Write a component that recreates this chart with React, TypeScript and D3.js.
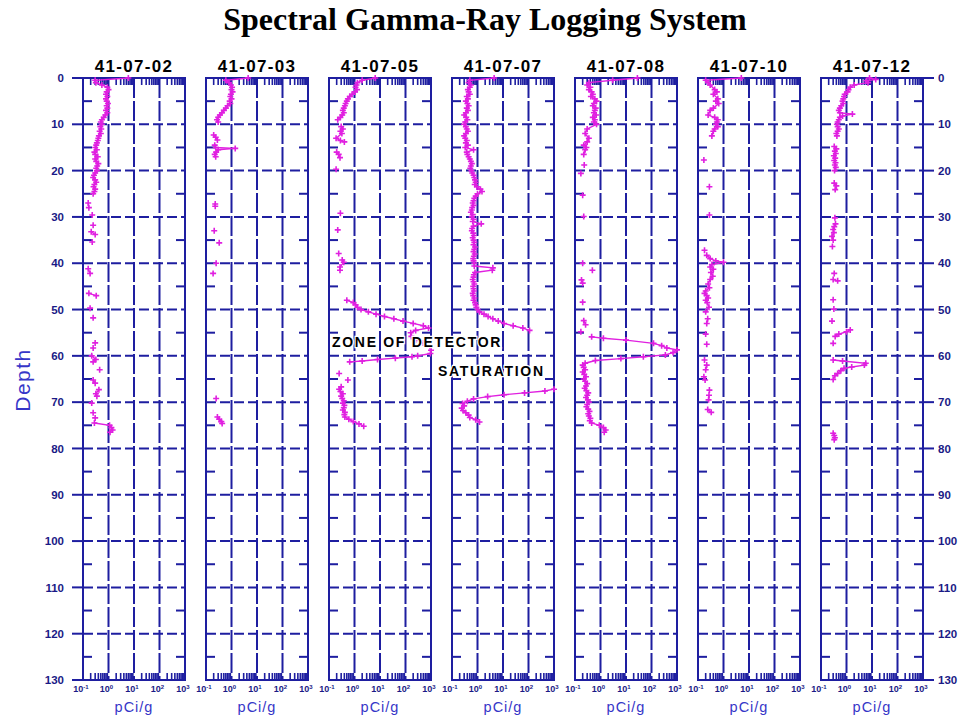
import React from 'react';
import * as d3 from 'd3';

type Pt = [number, number]; // [depth ft, activity pCi/g]

const wells = ['41-07-02', '41-07-03', '41-07-05', '41-07-07', '41-07-08', '41-07-10', '41-07-12'];
const depthTicks = [0, 10, 20, 30, 40, 50, 60, 70, 80, 90, 100, 110, 120, 130];
const depthMinor = [5, 15, 25, 35, 45, 55, 65, 75, 85, 95, 105, 115, 125];
const decadeExponents = [-1, 0, 1, 2, 3];
const gridDecades = [1, 10, 100];

const log02: Pt[] = [
  [0, 6.0], [0.5, 0.3], [1, 0.32], [1.5, 0.55], [2, 0.9], [2.5, 1.0], [3, 0.85], [3.5, 0.8], [4, 0.9], [4.5, 0.8],
  [5, 0.85], [5.5, 0.95], [6, 0.85], [6.5, 0.9], [7, 0.8], [7.5, 0.9], [8, 0.75], [8.5, 0.65], [9, 0.55], [9.5, 0.5],
  [10, 0.55], [10.5, 0.48], [11, 0.52], [11.5, 0.45], [12, 0.5], [12.5, 0.42], [13, 0.4], [13.5, 0.38], [14, 0.35],
  [14.5, 0.33], [15, 0.3], [15.5, 0.35], [16, 0.28], [16.5, 0.3], [17, 0.38], [17.5, 0.3], [18, 0.33], [18.5, 0.4],
  [19, 0.36], [19.5, 0.33], [20, 0.35], [20.5, 0.3], [21, 0.27], [21.5, 0.25], [22, 0.3], [22.5, 0.33], [23, 0.28],
  [23.5, 0.26], [24, 0.3], [24.5, 0.28], [25, 0.25],
  [27, 0.16], [28, 0.17], [29.6, 0.23], [31.8, 0.25], [33.2, 0.21], [33.8, 0.3], [35.4, 0.23], [41.2, 0.16],
  [42.2, 0.19], [46.5, 0.17], [47, 0.33], [49.7, 0.19], [51.8, 0.25], [57.2, 0.3], [58.3, 0.25], [60, 0.22],
  [60.8, 0.32], [61.3, 0.25], [63, 0.45], [65.2, 0.25], [65.9, 0.3], [67.3, 0.42], [68.2, 0.32], [68.7, 0.35],
  [70.2, 0.22], [72.3, 0.25], [73.4, 0.3], [74.5, 0.28], [75, 1.1], [75.5, 1.3], [76, 1.45], [76.5, 1.15],
];

const log03: Pt[] = [
  [0, 4.5], [0.5, 0.6], [1, 0.8], [1.5, 0.95], [2, 1.05], [2.5, 1.0], [3, 1.1], [3.5, 0.95], [4, 0.9], [4.5, 1.0],
  [5, 0.85], [5.5, 0.9], [6, 0.7], [6.5, 0.6], [7, 0.5], [7.5, 0.42], [8, 0.35], [8.5, 0.3], [9, 0.27], [9.5, 0.3],
  [12.3, 0.2], [12.8, 0.24], [13.4, 0.28], [14.5, 0.22], [15, 0.24], [15.2, 1.4], [15.5, 0.3], [16, 0.25],
  [16.5, 0.22], [17, 0.24],
  [27.2, 0.23], [27.7, 0.23], [33, 0.21], [35.6, 0.33], [40, 0.25], [42.2, 0.19], [69.2, 0.25],
  [73.2, 0.28], [73.7, 0.33], [74.2, 0.4], [74.6, 0.43],
];

const log05: Pt[] = [
  [0, 6.5], [0.5, 2.0], [1, 1.3], [1.5, 1.2], [2, 1.1], [2.5, 1.25], [3, 1.05], [3.5, 0.8], [4, 0.65], [4.5, 0.55],
  [5, 0.5], [5.5, 0.45], [6, 0.42], [6.5, 0.38], [7, 0.35], [7.5, 0.38], [8, 0.33], [8.5, 0.28], [9, 0.22],
  [10.5, 0.3], [11, 0.35], [11.5, 0.28], [12, 0.32], [13, 0.19], [13.5, 0.28], [13.8, 0.4], [16, 0.2], [16.5, 0.24],
  [17.2, 0.27], [19.7, 0.19],
  [29.2, 0.28], [32.8, 0.22], [37.9, 0.24], [39.3, 0.33], [39.8, 0.38], [40.8, 0.27], [41.5, 0.27],
  [48, 0.5], [48.5, 0.9], [49, 1.1], [49.5, 1.3], [50, 1.8], [50.5, 3.5], [51, 7], [51.5, 15], [52, 35], [52.5, 80],
  [53, 200], [53.5, 500], [54, 800], [54.5, 250], [55, 160], [55.8, 170], [56.5, 250], [57.2, 500], [58, 900],
  [58.8, 1000], [59.5, 950], [60, 300], [60.2, 180], [60.5, 40], [60.8, 8], [61.1, 2], [61.3, 0.65],
  [63.8, 0.25], [65.2, 0.55], [66.7, 0.3], [67.2, 0.25], [67.7, 0.28], [68.2, 0.35], [68.7, 0.3], [69.2, 0.33],
  [69.7, 0.38], [70.2, 0.35], [70.7, 0.4], [71.2, 0.38], [71.7, 0.35], [72.2, 0.42], [72.7, 0.4], [73.2, 0.42],
  [73.7, 0.6], [74.2, 0.9], [74.7, 1.5], [75.2, 2.3],
];

const log07: Pt[] = [
  [0, 4.5], [0.5, 0.5], [1, 0.45], [1.5, 0.55], [2, 0.5], [2.5, 0.42], [3, 0.45], [3.5, 0.5], [4, 0.38], [4.5, 0.42],
  [5, 0.35], [5.5, 0.4], [6, 0.45], [6.5, 0.38], [7, 0.42], [7.5, 0.35], [8, 0.3], [8.5, 0.36], [9, 0.4], [9.5, 0.33],
  [10, 0.3], [10.5, 0.35], [11, 0.38], [11.5, 0.42], [12, 0.35], [12.5, 0.3], [13, 0.33], [13.5, 0.38], [14, 0.35],
  [14.5, 0.42], [15, 0.33], [15.5, 0.7], [16, 0.38], [16.5, 0.4], [17, 0.45], [17.5, 0.5], [18, 0.55], [18.5, 0.6],
  [19, 0.55], [19.5, 0.52], [20, 0.58], [20.5, 0.62], [21, 0.7], [21.5, 0.75], [22, 0.8], [22.5, 0.85], [23, 0.78],
  [23.5, 0.95], [24, 1.3], [24.5, 1.5], [25, 1.0], [25.5, 0.85], [26, 0.75], [26.5, 0.7], [27, 0.65], [27.5, 0.7],
  [28, 0.62], [28.5, 0.6], [29, 0.55], [29.5, 0.65], [30, 0.6], [30.5, 0.7], [31, 0.65], [31.5, 1.4], [32, 0.7],
  [32.5, 0.62], [33, 0.6], [33.5, 0.68], [34, 0.72], [34.5, 0.65], [35, 0.7], [35.5, 0.75], [36, 0.7], [36.5, 0.8],
  [37, 0.75], [37.5, 0.7], [38, 0.78], [38.5, 0.72], [39, 0.68], [39.5, 0.7], [40, 0.75], [40.6, 0.75], [41, 4.0],
  [41.5, 3.8], [42, 0.8], [42.5, 0.72], [43, 0.7], [43.5, 0.65], [44, 0.7], [44.5, 0.75], [45, 0.68], [45.5, 0.7],
  [46, 0.72], [46.5, 0.65], [47, 0.68], [47.5, 0.75], [48, 0.7], [48.5, 0.8], [49, 0.85], [49.5, 0.9], [50, 1.0],
  [50.5, 1.2], [51, 1.8], [51.5, 2.6], [52, 4.0], [52.5, 6.5], [53, 11], [53.5, 25], [54, 60], [54.5, 110],
  [67.2, 1000], [67.6, 440], [68, 70], [68.4, 11], [68.8, 2.5], [69.3, 0.7], [69.8, 0.4], [70.3, 0.26], [70.8, 0.3],
  [71.3, 0.24], [71.8, 0.27], [72.3, 0.35], [72.8, 0.45], [73.3, 0.5], [73.8, 0.85], [74.3, 1.2],
];

const log08: Pt[] = [
  [0, 28], [0.5, 3], [1, 0.35], [1.5, 0.3], [2, 0.4], [2.5, 0.35], [3, 0.45], [3.5, 0.5], [4, 0.42], [4.5, 0.6],
  [5, 0.7], [5.5, 0.55], [6, 0.5], [6.5, 0.65], [7, 0.6], [7.5, 0.55], [8, 0.68], [8.5, 0.5], [9, 0.6], [9.5, 0.55],
  [10, 0.7], [11, 0.3], [12, 0.25], [13, 0.35], [13.8, 0.3], [14.5, 0.22], [15, 0.28], [15.5, 0.25], [16.5, 0.22],
  [18.8, 0.23], [20.6, 0.17], [25.3, 0.2], [29.9, 0.22],
  [40, 0.2], [41.5, 0.48], [43.6, 0.18], [44.3, 0.2], [48.4, 0.2], [52.4, 0.22], [53.3, 0.26], [54.8, 0.17],
  [55.9, 0.45], [56.2, 1.3], [56.6, 10], [57.3, 120], [57.8, 250], [58.3, 400], [58.7, 1000], [59.3, 700],
  [59.8, 350], [60.2, 48], [60.6, 6.3], [61, 0.63], [61.6, 0.25],
  [62, 0.2], [62.5, 0.22], [63, 0.25], [63.5, 0.2], [64, 0.23], [64.5, 0.27], [65, 0.22], [65.5, 0.25], [66, 0.3],
  [66.5, 0.27], [67, 0.24], [67.5, 0.28], [68, 0.33], [68.5, 0.3], [69, 0.27], [69.5, 0.32], [70, 0.35], [70.5, 0.3],
  [71, 0.28], [71.5, 0.33], [72, 0.37], [72.5, 0.33], [73, 0.35], [73.5, 0.4], [74, 0.38], [74.5, 0.45], [75, 0.9],
  [75.5, 1.3], [76, 1.6], [76.5, 1.4],
];

const log10: Pt[] = [
  [0, 5], [0.5, 0.2], [1, 0.25], [1.5, 0.3], [2.5, 0.45], [3, 0.55], [3.5, 0.4], [4.5, 0.6], [5, 0.5], [5.5, 0.65],
  [6.5, 0.4], [7, 0.3], [8, 0.25], [8.5, 0.45], [9, 0.6], [9.5, 0.55], [10, 0.5], [10.5, 0.6], [11, 0.45],
  [11.5, 0.4], [12.5, 0.35],
  [17.7, 0.17], [23.5, 0.28], [29.6, 0.28], [37.2, 0.18], [38.3, 0.22], [39, 0.3], [39.5, 0.5], [39.8, 1.0],
  [40.3, 0.35], [40.8, 0.3], [41.3, 0.4], [42, 0.32], [42.8, 0.38], [43.5, 0.3], [44.5, 0.25], [45.3, 0.28],
  [46, 0.2], [46.5, 0.18], [47, 0.22], [47.5, 0.25], [48, 0.2], [48.5, 0.23], [49.5, 0.27], [50.5, 0.2],
  [52, 0.24], [53, 0.22], [55.3, 0.2], [57.5, 0.22], [60.9, 0.18], [62, 0.22], [63, 0.2], [64.5, 0.17],
  [65.2, 0.19], [67.4, 0.28], [68.5, 0.27], [69.5, 0.26], [71.6, 0.24], [72.2, 0.33],
];

const log12: Pt[] = [
  [0, 8], [0.3, 14], [0.6, 6], [1, 7], [1.5, 2], [2, 1.4], [2.5, 1.2], [3, 1.1], [3.5, 0.85], [4, 0.8], [4.5, 0.75],
  [5, 0.7], [5.5, 0.75], [6, 0.62], [6.5, 0.55], [7, 0.5], [7.5, 0.55], [7.8, 1.7], [8.2, 0.7], [8.5, 0.55],
  [9, 0.5], [9.5, 0.45], [10, 0.42], [10.5, 0.45], [11, 0.5], [11.5, 0.45], [12, 0.4], [12.5, 0.42],
  [14.8, 0.33], [15.3, 0.4], [15.8, 0.35], [16.3, 0.38], [16.8, 0.32], [17.3, 0.36], [17.8, 0.33], [18.3, 0.37],
  [18.8, 0.35], [19.3, 0.38], [20, 0.34], [22.7, 0.33], [23.3, 0.4], [24.1, 0.36],
  [30.2, 0.35], [31.5, 0.37], [32.1, 0.33], [32.7, 0.3], [33.4, 0.32], [34.2, 0.27], [35, 0.3], [36.4, 0.28],
  [42.2, 0.33], [43.5, 0.3], [43.8, 0.45], [47.9, 0.3], [49.9, 0.32], [52.5, 0.27], [54.4, 1.4], [54.8, 1.0],
  [55.3, 0.5], [55.8, 0.36], [57.3, 0.3], [60.9, 0.3], [61.1, 0.7], [61.6, 5.7], [62, 5.0], [62.4, 1.6],
  [62.7, 0.8], [63.2, 0.6], [63.8, 0.45], [64.3, 0.35], [65.1, 0.3], [76.7, 0.3], [77.2, 0.33], [77.7, 0.35],
  [78.1, 0.33],
];

const logs: Pt[][] = [log02, log03, log05, log07, log08, log10, log12];

const AXIS = '#1e1ea0';
const LABEL = '#1a1a86';
const BLUE_TEXT = '#3636c8';
const DATA = '#e020e0';
const SANS = '"Liberation Sans", Arial, Helvetica, sans-serif';

// consecutive readings closer than this are joined by a line
const JOIN_GAP = 1.05;

function runs(pts: Pt[]): Pt[][] {
  const out: Pt[][] = [];
  let cur: Pt[] = [];
  pts.forEach((p, i) => {
    if (i > 0 && p[0] - pts[i - 1][0] > JOIN_GAP) {
      out.push(cur);
      cur = [];
    }
    cur.push(p);
  });
  if (cur.length) out.push(cur);
  return out;
}

export default function App() {
  const width = 966;
  const height = 719;

  const band = d3.scaleBand<string>().domain(wells).range([83, 923]).paddingInner(21 / 123).paddingOuter(0);
  const bw = band.bandwidth();
  const y = d3.scaleLinear().domain([0, 130]).range([78, 680]);
  const x = d3.scaleLog().domain([0.1, 1000]).range([0, bw]);

  const minorVals: number[] = [];
  [0.1, 1, 10, 100].forEach((dec) => {
    for (let k = 2; k <= 9; k++) minorVals.push(dec * k);
  });

  const line = d3
    .line<Pt>()
    .x((d) => x(d[1]))
    .y((d) => y(d[0]));

  const top = y(0);
  const bottom = y(130);

  return (
    <svg
      width={width}
      height={height}
      style={{ position: 'absolute', left: 0, top: 0, background: '#fff' }}
      xmlns="http://www.w3.org/2000/svg"
    >
      <rect x={0} y={0} width={width} height={height} fill="#fff" />
      <text
        x={485}
        y={30}
        textAnchor="middle"
        fontFamily='"Liberation Serif", "Times New Roman", serif'
        fontWeight="bold"
        fontSize={32}
        fill="#000"
      >
        Spectral Gamma-Ray Logging System
      </text>

      <text
        transform="translate(30,380) rotate(-90)"
        textAnchor="middle"
        fontFamily={SANS}
        fontSize={21}
        letterSpacing={1.5}
        fill={BLUE_TEXT}
      >
        Depth
      </text>

      {/* depth labels, left side */}
      {depthTicks.map((d) => (
        <g key={'l' + d}>
          <line x1={72} x2={83} y1={y(d)} y2={y(d)} stroke={AXIS} strokeWidth={2} />
          <text
            x={64}
            y={y(d)}
            dy="0.36em"
            textAnchor="end"
            fontFamily={SANS}
            fontWeight="bold"
            fontSize={11.5}
            fill={LABEL}
          >
            {d}
          </text>
        </g>
      ))}
      {/* depth labels, right side */}
      {depthTicks.map((d) => (
        <g key={'r' + d}>
          <line x1={923} x2={934} y1={y(d)} y2={y(d)} stroke={AXIS} strokeWidth={2} />
          <text
            x={938}
            y={y(d)}
            dy="0.36em"
            textAnchor="start"
            fontFamily={SANS}
            fontWeight="bold"
            fontSize={11.5}
            fill={LABEL}
          >
            {d}
          </text>
        </g>
      ))}

      {wells.map((w, wi) => {
        const left = band(w) as number;
        const cx = bw / 2;
        return (
          <g key={w} transform={`translate(${left},0)`}>
            <text
              x={cx}
              y={72}
              textAnchor="middle"
              fontFamily={SANS}
              fontWeight="bold"
              fontSize={17}
              letterSpacing={1.3}
              fill="#000"
            >
              {w}
            </text>

            {/* depth grid */}
            {depthTicks.slice(1, -1).map((d) => (
              <line
                key={'h' + d}
                x1={0}
                x2={bw}
                y1={y(d)}
                y2={y(d)}
                stroke={AXIS}
                strokeWidth={2}
                strokeDasharray="10 4"
              />
            ))}
            {depthMinor.map((d) => (
              <g key={'m' + d}>
                <line x1={0} x2={9} y1={y(d)} y2={y(d)} stroke={AXIS} strokeWidth={2} />
                <line x1={bw - 9} x2={bw} y1={y(d)} y2={y(d)} stroke={AXIS} strokeWidth={2} />
              </g>
            ))}
            {/* decade grid */}
            {gridDecades.map((v) => (
              <line
                key={'v' + v}
                x1={x(v)}
                x2={x(v)}
                y1={top}
                y2={bottom}
                stroke={AXIS}
                strokeWidth={2}
                strokeDasharray="20 3"
              />
            ))}
            {/* log minor ticks on top and bottom */}
            {minorVals.map((v, i) => (
              <g key={'t' + i}>
                <line x1={x(v)} x2={x(v)} y1={top} y2={top + 7} stroke={AXIS} strokeWidth={1.6} />
                <line x1={x(v)} x2={x(v)} y1={bottom - 7} y2={bottom} stroke={AXIS} strokeWidth={1.6} />
              </g>
            ))}
            <rect x={0} y={top} width={bw} height={bottom - top} fill="none" stroke={AXIS} strokeWidth={2} />

            {/* decade labels */}
            {decadeExponents.map((e) => (
              <text
                key={'e' + e}
                x={x(Math.pow(10, e)) - 2}
                y={692}
                textAnchor="middle"
                fontFamily={SANS}
                fontWeight="bold"
                fontSize={9}
                fill={LABEL}
              >
                10
                <tspan fontSize={6} dy={-3.5}>
                  {e < 0 ? '-' + Math.abs(e) : String(e)}
                </tspan>
              </text>
            ))}
            <text
              x={cx}
              y={712}
              textAnchor="middle"
              fontFamily={SANS}
              fontSize={14.5}
              letterSpacing={1}
              fill={BLUE_TEXT}
            >
              pCi/g
            </text>

            {/* readings */}
            <g>
              {runs(logs[wi]).map((r, ri) =>
                r.length > 1 ? (
                  <path key={'p' + ri} d={line(r) || ''} fill="none" stroke={DATA} strokeWidth={1.4} />
                ) : null
              )}
              {logs[wi].map((p, pi) => {
                const px = x(p[1]);
                const py = y(p[0]);
                return (
                  <path
                    key={'c' + pi}
                    d={`M${px - 3},${py}H${px + 3}M${px},${py - 3}V${py + 3}`}
                    stroke={DATA}
                    strokeWidth={1.6}
                  />
                );
              })}
            </g>
          </g>
        );
      })}

      {/* annotation */}
      <g
        fontFamily={SANS}
        fontWeight="bold"
        fontSize={14}
        letterSpacing={1.7}
        fill="#000"
        stroke="#fff"
        strokeWidth={2.5}
        paintOrder="stroke"
      >
        <text x={332} y={347}>ZONE OF DETECTOR</text>
        <text x={438} y={376}>SATURATION</text>
      </g>
    </svg>
  );
}
